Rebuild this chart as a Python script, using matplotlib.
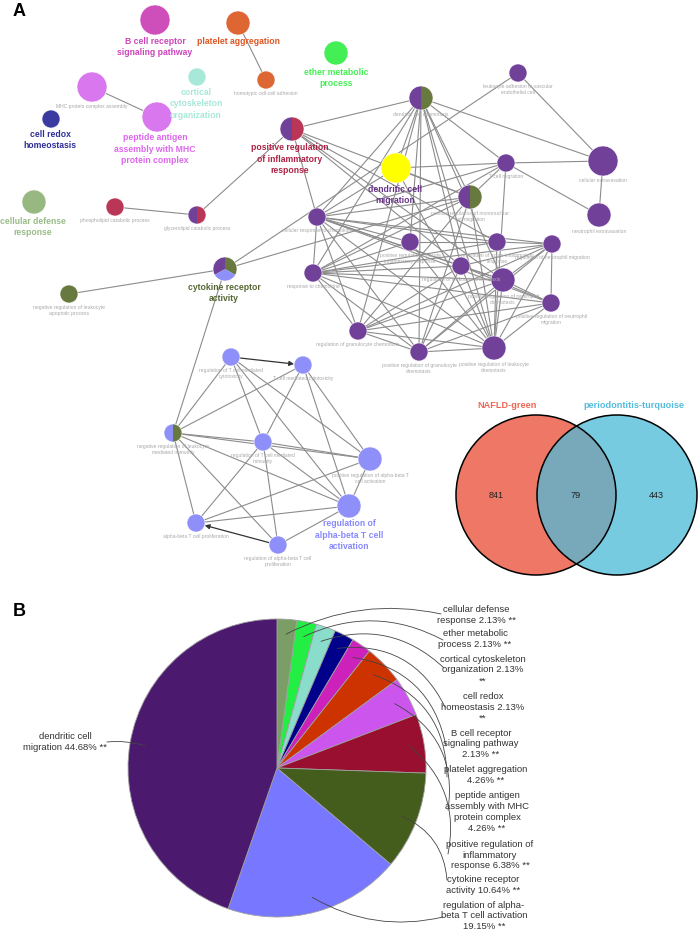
import numpy as np
import matplotlib.pyplot as plt
from matplotlib.patches import Circle, Wedge

plt.rcParams['font.family'] = ['Liberation Sans', 'DejaVu Sans']

# ---- panel B data: share of GO groups ----
pie_terms = ['cellular defense response', 'ether metabolic process',
             'cortical cytoskeleton organization', 'cell redox homeostasis',
             'B cell receptor signaling pathway', 'platelet aggregation',
             'peptide antigen assembly with MHC protein complex',
             'positive regulation of inflammatory response',
             'cytokine receptor activity',
             'regulation of alpha-beta T cell activation',
             'dendritic cell migration']
pie_pct = [2.13, 2.13, 2.13, 2.13, 2.13, 4.26, 4.26, 6.38, 10.64, 19.15, 44.68]
pie_colors = ['#7a9e66', '#22ee44', '#8adccb', '#00008b', '#cc22bb', '#cc3300',
              '#cc55ee', '#990f30', '#445c1c', '#7777ff', '#4b1a6e']
# how each label is wrapped in the figure ({} -> "x.xx% **")
pie_wrap = ['cellular defense\nresponse {}', 'ether metabolic\nprocess {}',
            'cortical cytoskeleton\norganization {}', 'cell redox\nhomeostasis {}',
            'B cell receptor\nsignaling pathway\n{}', 'platelet aggregation\n{}',
            'peptide antigen\nassembly with MHC\nprotein complex\n{}',
            'positive regulation of\ninflammatory\nresponse {}',
            'cytokine receptor\nactivity {}',
            'regulation of alpha-\nbeta T cell activation\n{}',
            'dendritic cell\nmigration {}']
pct_break = [False, False, True, True, False, False, False, False, False, False, False]

# ---- venn data ----
venn_sets = ['NAFLD-green', 'periodontitis-turquoise']
venn_counts = [841, 79, 443]

# ---- panel A network ----
PU, BL, OL, CR = '#71419a', '#8f8ff9', '#68793f', '#b93657'
node_keys = ['bcr', 'plt', 'homo', 'ether', 'mhc', 'pep', 'cort', 'redox', 'pri',
             'cdr', 'phos', 'glyc', 'cyt', 'nrla',
             'dcc', 'lad', 'dcm', 'tcm', 'cex', 'nex', 'prmc', 'crc', 'praci', 'raci',
             'rnm', 'rlc', 'prnc', 'prnm', 'rc', 'rgc', 'prgc', 'prlc',
             'rtcc', 'tcc', 'nrlm', 'rtmi', 'prab', 'rab', 'abp', 'rabp']
node_colors = [['#cf4fba'], ['#dd6633'], ['#dd6633'], ['#44ee55'], ['#d877ee'],
               ['#d877ee'], ['#a8e8d8'], ['#3a3aa0'], [PU, CR],
               ['#98b882'], [CR], [PU, CR], [PU, OL, BL], [OL],
               [PU, OL], [PU], ['#ffff00'], [PU], [PU], [PU], [PU, OL], [PU], [PU], [PU],
               [PU], [PU], [PU], [PU], [PU], [PU], [PU], [PU],
               [BL], [BL], [BL, OL], [BL], [BL], [BL], [BL], [BL]]
node_small = ['', '', 'homotypic cell-cell adhesion', '', 'MHC protein complex assembly',
              '', '', '', '', '', 'phospholipid catabolic process',
              'glycerolipid catabolic process', '',
              'negative regulation of leukocyte\napoptotic process',
              'dendritic cell chemotaxis',
              'leukocyte adhesion to vascular\nendothelial cell', '', 'T cell migration',
              'cellular extravasation', 'neutrophil extravasation',
              'positive regulation of mononuclear\ncell migration',
              'cellular response to chemokine',
              'positive regulation of acute\ninflammatory response',
              'regulation of acute inflammatory\nresponse',
              'regulation of neutrophil migration',
              'regulation of leukocyte chemotaxis',
              'positive regulation of neutrophil\nchemotaxis',
              'positive regulation of neutrophil\nmigration',
              'response to chemokine', 'regulation of granulocyte chemotaxis',
              'positive regulation of granulocyte\nchemotaxis',
              'positive regulation of leukocyte\nchemotaxis',
              'regulation of T cell mediated\ncytotoxicity', 'T cell mediated cytotoxicity',
              'negative regulation of leukocyte\nmediated immunity',
              'regulation of T cell mediated\nimmunity',
              'positive regulation of alpha-beta T\ncell activation', '',
              'alpha-beta T cell proliferation',
              'regulation of alpha-beta T cell\nproliferation']

edges = [('plt', 'homo'), ('mhc', 'pep'), ('phos', 'glyc'), ('glyc', 'pri'),
         ('nrla', 'cyt'), ('cyt', 'lad'), ('cyt', 'prmc'), ('cyt', 'nrlm'),
         ('pri', 'dcc'), ('pri', 'prmc'), ('pri', 'prnc'), ('pri', 'crc'),
         ('pri', 'raci'), ('pri', 'rlc'),
         ('dcc', 'dcm'), ('dcc', 'tcm'), ('dcc', 'cex'), ('dcc', 'crc'), ('dcc', 'rc'),
         ('dcc', 'prmc'), ('dcc', 'praci'), ('dcc', 'rlc'), ('dcc', 'prlc'),
         ('dcc', 'prgc'), ('dcc', 'rgc'), ('dcc', 'prnc'),
         ('lad', 'cex'), ('dcm', 'tcm'), ('dcm', 'prmc'), ('dcm', 'prlc'), ('dcm', 'crc'),
         ('tcm', 'cex'), ('tcm', 'nex'), ('tcm', 'prmc'), ('tcm', 'crc'),
         ('tcm', 'prlc'), ('tcm', 'rc'), ('cex', 'nex'),
         ('prmc', 'crc'), ('prmc', 'rc'), ('prmc', 'rgc'), ('prmc', 'prlc'), ('prmc', 'prgc'),
         ('crc', 'rc'), ('crc', 'praci'), ('crc', 'raci'), ('crc', 'rlc'), ('crc', 'prnc'),
         ('crc', 'prnm'), ('crc', 'rgc'), ('crc', 'prgc'), ('crc', 'prlc'), ('crc', 'rnm'),
         ('praci', 'raci'), ('praci', 'prlc'), ('praci', 'rc'),
         ('raci', 'rnm'), ('raci', 'prlc'), ('raci', 'rc'),
         ('rnm', 'rlc'), ('rnm', 'prnc'), ('rnm', 'prnm'), ('rnm', 'rc'), ('rnm', 'rgc'),
         ('rnm', 'prgc'), ('rnm', 'prlc'),
         ('rlc', 'prnc'), ('rlc', 'prnm'), ('rlc', 'rc'), ('rlc', 'rgc'), ('rlc', 'prgc'),
         ('rlc', 'prlc'),
         ('prnc', 'prnm'), ('prnc', 'rc'), ('prnc', 'rgc'), ('prnc', 'prgc'), ('prnc', 'prlc'),
         ('prnm', 'rc'), ('prnm', 'rgc'), ('prnm', 'prgc'), ('prnm', 'prlc'),
         ('rc', 'rgc'), ('rc', 'prgc'), ('rc', 'prlc'),
         ('rgc', 'prgc'), ('rgc', 'prlc'), ('prgc', 'prlc'),
         ('rtcc', 'rtmi'), ('rtcc', 'prab'), ('rtcc', 'rab'), ('nrlm', 'rtcc'),
         ('nrlm', 'tcc'), ('nrlm', 'rtmi'), ('nrlm', 'prab'), ('nrlm', 'rab'),
         ('nrlm', 'abp'), ('nrlm', 'rabp'), ('tcc', 'rtmi'), ('tcc', 'prab'), ('tcc', 'rab'),
         ('rtmi', 'abp'), ('rtmi', 'rab'), ('rtmi', 'rabp'), ('rtmi', 'prab'),
         ('prab', 'abp'), ('prab', 'rab'), ('rab', 'abp'), ('rab', 'rabp')]
arrows = [('rtcc', 'tcc'), ('rabp', 'abp')]

# group labels (bold) for panel A
group_text = ['B cell receptor\nsignaling pathway', 'platelet aggregation',
              'ether metabolic\nprocess', 'cortical\ncytoskeleton\norganization',
              'cell redox\nhomeostasis', 'peptide antigen\nassembly with MHC\nprotein complex',
              'positive regulation\nof inflammatory\nresponse', 'cellular defense\nresponse',
              'dendritic cell\nmigration', 'cytokine receptor\nactivity',
              'regulation of\nalpha-beta T cell\nactivation']
group_colors = ['#cc44bb', '#dd5522', '#44ee55', '#a8e8d8', '#2c2c99', '#dd66ee',
                '#aa2244', '#99bb88', '#663388', '#556633', '#8888ff']

# ---- layout (pixels) ----
node_pos = {'bcr': (155, 20, 15), 'plt': (238, 23, 12), 'homo': (266, 80, 9),
            'ether': (336, 53, 12), 'mhc': (92, 87, 15), 'pep': (157, 117, 15),
            'cort': (197, 77, 9), 'redox': (51, 119, 9), 'pri': (292, 129, 12),
            'cdr': (34, 202, 12), 'phos': (115, 207, 9), 'glyc': (197, 215, 9),
            'cyt': (225, 269, 12), 'nrla': (69, 294, 9),
            'dcc': (421, 98, 12), 'lad': (518, 73, 9), 'dcm': (396, 168, 15),
            'tcm': (506, 163, 9), 'cex': (603, 161, 15), 'nex': (599, 215, 12),
            'prmc': (470, 197, 12), 'crc': (317, 217, 9), 'praci': (410, 242, 9),
            'raci': (497, 242, 9), 'rnm': (552, 244, 9), 'rlc': (461, 266, 9),
            'prnc': (503, 280, 12), 'prnm': (551, 303, 9), 'rc': (313, 273, 9),
            'rgc': (358, 331, 9), 'prgc': (419, 352, 9), 'prlc': (494, 348, 12),
            'rtcc': (231, 357, 9), 'tcc': (303, 365, 9), 'nrlm': (173, 433, 9),
            'rtmi': (263, 442, 9), 'prab': (370, 459, 12), 'rab': (349, 506, 12),
            'abp': (196, 523, 9), 'rabp': (278, 545, 9)}
group_xy = [(155, 47), (238, 41), (336, 78), (196, 104), (50, 140), (155, 149),
            (290, 159), (33, 227), (395, 195), (224, 293), (349, 535)]

pie_center, pie_radius = (277, 768), 149
pie_text_xy = [(476, 615), (475, 639), (483, 670), (483, 707), (481, 744), (486, 775),
               (487, 812), (490, 855), (483, 885), (484, 916), (65, 742)]
pie_link_end = [(441, 614), (443, 640), (444, 668), (445, 707), (446, 746), (447, 777),
                (448, 810), (448, 854), (447, 880), (443, 917), (107, 742)]
pie_link_rad = [-0.18, -0.25, -0.3, -0.35, -0.35, -0.35, -0.35, -0.3, -0.3, 0.2, 0.1]

fig = plt.figure(figsize=(6.99, 9.33), dpi=100)
ax = fig.add_axes([0, 0, 1, 1])

# edges
for a, b in edges:
    xa, ya, _ = node_pos[a]
    xb, yb, _ = node_pos[b]
    ax.plot([xa, xb], [ya, yb], color='#8c8c8c', lw=0.8, zorder=1, solid_capstyle='round')
for a, b in arrows:
    xa, ya, ra = node_pos[a]
    xb, yb, rb = node_pos[b]
    ax.annotate('', xy=(xb, yb), xytext=(xa, ya),
                arrowprops=dict(arrowstyle='-|>', color='#333333', lw=0.9,
                                mutation_scale=7, shrinkA=ra * 0.72, shrinkB=rb * 0.72),
                zorder=1)

# nodes
split = {2: [(90, 270), (-90, 90)], 3: [(-210, -90), (-90, 30), (30, 150)]}
for k, cols, lab in zip(node_keys, node_colors, node_small):
    x, y, r = node_pos[k]
    if len(cols) == 1:
        ax.add_patch(Circle((x, y), r, facecolor=cols[0], edgecolor='white', lw=0.4, zorder=2))
    else:
        for c, (t1, t2) in zip(cols, split[len(cols)]):
            ax.add_patch(Wedge((x, y), r, t1, t2, facecolor=c, edgecolor='none', zorder=2))
        ax.add_patch(Circle((x, y), r, facecolor='none', edgecolor='white', lw=0.4, zorder=2))
    if lab:
        ax.text(x, y + r + 2, lab, ha='center', va='top', fontsize=3.6, color='#a8a8a8',
                linespacing=1.3, zorder=3)

for txt, (x, y), c in zip(group_text, group_xy, group_colors):
    ax.text(x, y, txt, ha='center', va='center', fontsize=6.2, fontweight='bold',
            color=c, linespacing=1.3, zorder=4)

# venn
(ca, cb), vr = ((536, 495), (617, 495)), 80
left = Circle(ca, vr, facecolor='#ee7766', edgecolor='none', zorder=2)
right = Circle(cb, vr, facecolor='#77cbe0', edgecolor='none', zorder=2)
ax.add_patch(left)
ax.add_patch(right)
mid = Circle(cb, vr, facecolor='#78a9bb', edgecolor='none', zorder=2)
ax.add_patch(mid)
mid.set_clip_path(Circle(ca, vr, transform=ax.transData))
for c in (ca, cb):
    ax.add_patch(Circle(c, vr, facecolor='none', edgecolor='black', lw=1.1, zorder=3))
for xv, n in zip([496, 576, 656], venn_counts):
    ax.text(xv, 495, str(n), ha='center', va='center', fontsize=6.6, color='#222222', zorder=4)
ax.text(507, 406, venn_sets[0], ha='center', va='center', fontsize=6.6,
        fontweight='bold', color='#ee6655')
ax.text(634, 406, venn_sets[1], ha='center', va='center', fontsize=6.6,
        fontweight='bold', color='#55bbdd')

# pie
wedges, _ = ax.pie(pie_pct, colors=pie_colors, startangle=-90, counterclock=True,
                   center=pie_center, radius=pie_radius,
                   wedgeprops=dict(edgecolor='#a0a0a0', linewidth=0.6))
for i, w in enumerate(wedges):
    t = np.deg2rad((w.theta1 + w.theta2) / 2)
    sx = pie_center[0] + 0.9 * pie_radius * np.cos(t)
    sy = pie_center[1] + 0.9 * pie_radius * np.sin(t)
    pct = f'{pie_pct[i]:.2f}%\n**' if pct_break[i] else f'{pie_pct[i]:.2f}% **'
    ax.text(*pie_text_xy[i], pie_wrap[i].format(pct), ha='center', va='center',
            fontsize=6.8, color='#333333', linespacing=1.25, zorder=4)
    ax.annotate('', xy=pie_link_end[i], xytext=(sx, sy),
                arrowprops=dict(arrowstyle='-', color='#444444', lw=0.6, shrinkA=0, shrinkB=0,
                                connectionstyle=f'arc3,rad={pie_link_rad[i]}'), zorder=4)

ax.text(19, 12, 'A', ha='center', va='center', fontsize=13, fontweight='bold')
ax.text(19, 612, 'B', ha='center', va='center', fontsize=13, fontweight='bold')

ax.set_xlim(0, 699)
ax.set_ylim(933, 0)
ax.set_aspect('auto')
ax.axis('off')
fig.savefig('out.png', dpi=100)
